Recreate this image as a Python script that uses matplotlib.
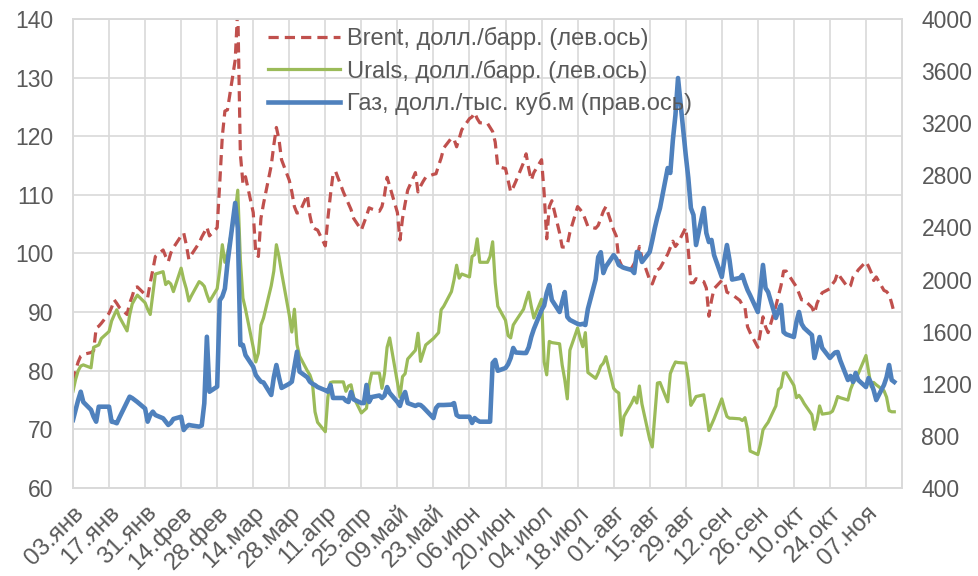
import pandas as pd
import matplotlib
matplotlib.use("Agg")
import matplotlib.pyplot as plt
from matplotlib.transforms import ScaledTranslation

plt.rcParams["font.family"] = ["Liberation Sans", "DejaVu Sans"]

# business days, 03.01.2022 - 18.11.2022
dates = pd.bdate_range("2022-01-03", "2022-11-18")

# Brent, $/bbl (left axis)
brent = [
    78.2, 80.0, 81.5, 82.5, 82.8, 83.1, 83.4, 87.3, 87.6, 88.1,
    89.8, 90.8, 92.1, 91.5, 90.8, 89.6, 91.5, 92.7, 94.2, 94.3,
    93.0, 92.5, 95.0, 97.2, 99.5, 100.6, 99.5, 98.6, 100.1, 101.0,
    103.0, 103.5, 101.5, 99.0, 99.8, 101.8, 102.8, 103.6, 104.5, 103.0,
    104.4, 112.0, 120.0, 124.3, 124.5, 133.0, 142.0, 117.0, 112.0, 113.1,
    107.0, 100.0, 99.5, 106.0, 108.5, 115.0, 118.5, 121.5, 119.5, 116.0,
    112.5, 110.5, 108.0, 106.9, 107.0, 110.0, 106.5, 104.5, 104.2, 104.0,
    101.3, 106.0, 110.0, 113.5, 114.0, 110.5, 109.5, 108.5, 107.5, 106.0,
    104.0, 105.2, 106.4, 107.8, 107.6, 107.2, 108.0, 110.0, 113.0, 111.5,
    107.0, 102.3, 106.0, 108.5, 110.8, 113.8, 110.5, 111.5, 112.3, 113.0,
    113.5, 113.6, 115.0, 116.3, 118.0, 119.7, 119.5, 118.2, 119.6, 121.1,
    123.0, 123.3, 124.0, 123.0, 122.3, 122.2, 121.5, 120.8, 119.0, 114.8,
    114.5, 112.5, 110.5, 111.3, 112.3, 115.5, 117.0, 114.5, 112.5, 113.8,
    116.0, 110.3, 102.5, 108.0, 109.0, 103.5, 101.1, 101.1, 101.5, 103.6,
    108.0, 107.5, 106.9, 105.8, 104.6, 104.3, 104.8, 106.0, 107.2, 108.0,
    104.0, 103.0, 99.0, 98.0, 97.2, 97.5, 98.3, 99.2, 101.2, 99.3,
    95.5, 94.8, 96.0, 97.2, 97.5, 99.9, 101.0, 102.1, 101.2, 101.8,
    104.4, 100.5, 95.0, 95.0, 95.7, 95.2, 94.1, 89.3, 92.0, 94.0,
    95.4, 95.2, 93.4, 93.2, 93.0, 92.0, 91.2, 90.8, 87.5, 86.5,
    84.0, 86.5, 89.2, 87.5, 86.5, 91.0, 92.8, 94.5, 97.0, 97.0,
    95.0, 94.3, 93.2, 92.1, 92.1, 90.8, 89.8, 91.5, 92.5, 93.3,
    94.0, 94.8, 95.4, 96.7, 96.0, 94.2, 94.5, 96.0, 96.5, 97.2,
    98.6, 97.8, 96.8, 95.4, 96.0, 93.7, 93.5, 93.0, 91.5, 89.8,
]

# Urals, $/bbl (left axis)
urals = [
    76.5, 78.5, 80.0, 80.8, 81.0, 80.5, 84.0, 84.2, 84.4, 85.5,
    86.7, 88.5, 89.5, 90.4, 89.2, 86.8, 89.5, 91.4, 92.2, 92.9,
    91.6, 90.5, 89.6, 93.0, 96.5, 96.9, 94.7, 95.2, 94.8, 93.5,
    97.5, 95.5, 94.0, 91.9, 92.8, 95.2, 94.9, 94.4, 93.0, 91.8,
    94.0, 97.2, 101.5, 98.5, 100.0, 107.0, 110.8, 99.0, 92.4, 90.5,
    84.0, 81.5, 83.0, 87.8, 89.0, 94.5, 97.0, 101.5, 99.5, 96.8,
    89.5, 86.6, 90.5, 84.5, 82.5, 80.0, 79.3, 78.0, 73.0, 71.2,
    69.6, 75.5, 78.0, 78.1, 78.1, 78.1, 76.5, 77.4, 77.6, 75.5,
    72.8, 73.2, 73.6, 77.5, 79.6, 79.6, 77.0, 79.5, 84.0, 85.6,
    78.0, 75.5, 79.0, 79.5, 82.0, 83.5, 86.4, 81.6, 83.0, 84.4,
    85.5, 86.0, 86.5, 90.4, 91.0, 93.5, 95.5, 98.0, 95.8, 96.5,
    96.0, 99.5, 99.8, 102.5, 98.5, 98.5, 99.5, 102.0, 95.0, 91.0,
    88.6, 86.0, 85.6, 87.8, 88.5, 90.5, 92.0, 93.4, 91.0, 89.0,
    92.2, 81.5, 79.3, 85.0, 84.8, 84.6, 81.0, 78.5, 75.2, 83.5,
    87.3, 85.5, 84.1, 86.5, 79.7, 78.7, 79.6, 80.8, 81.3, 82.4,
    77.0, 76.5, 76.2, 69.0, 72.2, 74.5, 75.5, 74.5, 77.4, 74.3,
    68.3, 67.0, 72.5, 77.9, 78.0, 74.7, 79.5, 80.6, 81.5, 81.4,
    81.3, 78.5, 74.1, 74.8, 75.6, 75.9, 73.0, 69.8, 70.8, 71.8,
    75.2, 73.6, 72.2, 71.9, 71.9, 71.8, 71.5, 72.0, 70.0, 66.3,
    65.7, 67.5, 69.9, 70.6, 71.2, 74.0, 76.8, 77.2, 79.6, 79.7,
    77.5, 75.4, 75.8, 75.2, 74.4, 72.5, 70.0, 71.5, 74.0, 72.6,
    72.8, 73.1, 74.2, 75.6, 75.4, 75.0, 76.8, 77.9, 78.6, 79.5,
    82.6, 80.0, 77.3, 78.0, 77.6, 76.6, 75.5, 73.2, 73.0, 73.0,
]

# gas, $ per 1000 m3 (right axis)
gas = [
    922, 1000, 1075, 1139, 1060, 1000, 947, 909, 1024, 1024,
    1024, 909, 905, 897, 940, 1060, 1101, 1090, 1075, 1060,
    1010, 909, 960, 986, 960, 935, 910, 884, 900, 930,
    947, 845, 870, 884, 880, 871, 880, 1050, 1561, 1139,
    1178, 1840, 1870, 1930, 2125, 2588, 2396, 1498, 1498, 1420,
    1330, 1267, 1240, 1216, 1210, 1114, 1250, 1344, 1250, 1168,
    1200, 1216, 1330, 1446, 1293, 1250, 1216, 1200, 1190, 1175,
    1150, 1139, 1191, 1091, 1091, 1091, 1070, 1060, 1137, 1080,
    1052, 1052, 1191, 1060, 1098, 1110, 1091, 1110, 1175, 1130,
    1060, 1030, 1098, 1137, 1052, 1030, 1040, 1037, 1020, 999,
    937, 1014, 1037, 1037, 1037, 1040, 1052, 960, 947, 947,
    947, 899, 937, 920, 909, 909, 909, 1360, 1383, 1300,
    1321, 1350, 1398, 1475, 1440, 1436, 1436, 1480, 1560, 1620,
    1766, 1800, 1897, 1958, 1843, 1751, 1830, 1904, 1713, 1690,
    1660, 1655, 1660, 1651, 1775, 2000, 2173, 2210, 2050, 2100,
    2188, 2160, 2112, 2100, 2090, 2073, 2050, 2212, 2200, 2135,
    2212, 2300, 2396, 2480, 2549, 2856, 2818, 3071, 3263, 3547,
    2956, 2780, 2549, 2496, 2265, 2549, 2357, 2288, 2304, 2188,
    2020, 2150, 2265, 2150, 2000, 2012, 2035, 1973, 1920, 1880,
    1751, 1920, 2112, 1935, 1904, 1705, 1760, 1805, 1597, 1580,
    1559, 1674, 1751, 1660, 1628, 1574, 1398, 1480, 1559, 1475,
    1398, 1420, 1440, 1444, 1380, 1229, 1260, 1214, 1283, 1229,
    1175, 1244, 1206, 1150, 1075, 1191, 1250, 1344, 1229, 1214,
]

tick_labels = [
    "03.янв", "17.янв", "31.янв", "14.фев", "28.фев", "14.мар", "28.мар",
    "11.апр", "25.апр", "09.май", "23.май", "06.июн", "20.июн", "04.июл",
    "18.июл", "01.авг", "15.авг", "29.авг", "12.сен", "26.сен", "10.окт",
    "24.окт", "07.ноя",
]
tick_dates = pd.date_range("2022-01-03", periods=len(tick_labels), freq="14D")

label_color = "#595959"
grid_color = "#D9D9D9"

fig = plt.figure(figsize=(9.79, 5.76), dpi=100)
ax = fig.add_axes([73 / 979, 1 - 488 / 576, (902 - 73) / 979, (488 - 19) / 576])
ax2 = ax.twinx()

l1, = ax.plot(dates, brent, color="#C0504D", lw=2.3, ls=(0, (3.2, 1.9)),
              label="Brent, долл./барр. (лев.ось)")
l2, = ax.plot(dates, urals, color="#9BBB59", lw=2.3,
              label="Urals, долл./барр. (лев.ось)")
l3, = ax2.plot(dates, gas, color="#4F81BD", lw=3.3, solid_joinstyle="round",
               label="Газ, долл./тыс. куб.м (прав.ось)")

ax.set_xlim(pd.Timestamp("2022-01-03"), pd.Timestamp("2022-11-21"))
ax.set_ylim(60, 140)
ax.set_yticks(range(60, 141, 10))
ax2.set_ylim(400, 4000)
ax2.set_yticks(range(400, 4001, 400))

ax.set_xticks(tick_dates)
ax.set_xticklabels(tick_labels, rotation=45, ha="right", va="top",
                   rotation_mode="anchor", fontsize=17.5)
shift = ScaledTranslation(7 / 100, 0, fig.dpi_scale_trans)
for lab in ax.get_xticklabels():
    lab.set_transform(lab.get_transform() + shift)

ax.grid(True, color=grid_color, lw=1.2)
ax.set_axisbelow(True)
for a in (ax, ax2):
    for s in a.spines.values():
        s.set_color(grid_color)
        s.set_linewidth(1.2)
    a.tick_params(length=0, labelcolor=label_color)
    a.tick_params(axis="y", labelsize=16.5, pad=14)
ax.tick_params(axis="x", pad=10)

fig.legend(handles=[l1, l2, l3], loc="upper left",
           bbox_to_anchor=(268 / 979, 1 - 27 / 576), frameon=False,
           fontsize=17, labelcolor=label_color, handlelength=3.05,
           handletextpad=0.3, labelspacing=0.4, borderpad=0, borderaxespad=0)

fig.savefig("out.png", dpi=100)
